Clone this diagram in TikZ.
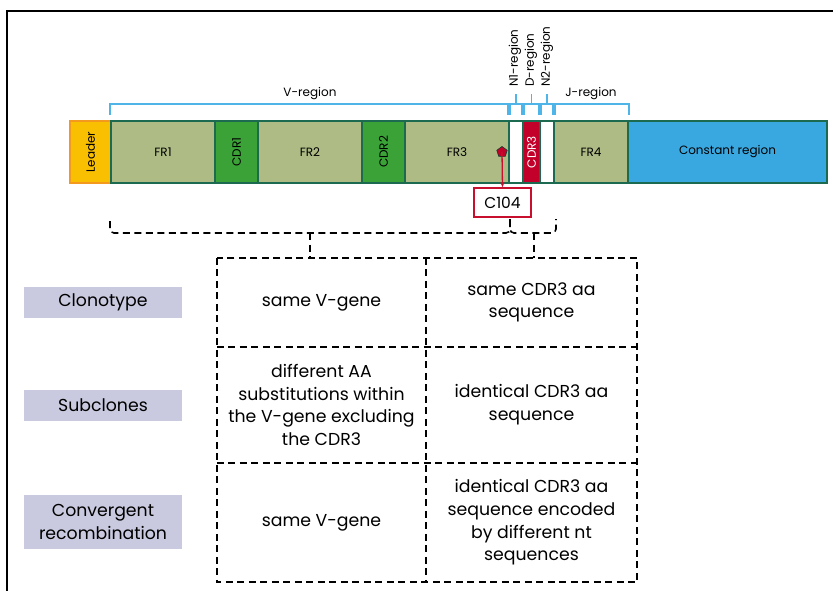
\documentclass[tikz,border=0pt]{standalone}
\usepackage{fontspec}
\setmainfont{Poppins}
\usetikzlibrary{shapes.geometric,arrows.meta}
\definecolor{frc}{HTML}{AEBB85}
\definecolor{cdrc}{HTML}{3BA237}
\definecolor{edgec}{HTML}{1C6B50}
\definecolor{leadc}{HTML}{F8C000}
\definecolor{leadb}{HTML}{F39A1E}
\definecolor{cdr3c}{HTML}{C3002A}
\definecolor{constc}{HTML}{3AA8E0}
\definecolor{brkc}{HTML}{4FB4E8}
\definecolor{labc}{HTML}{C9CADF}
\definecolor{redb}{HTML}{C8102E}
\tikzset{
  seg/.style={draw=edgec, line width=2pt, inner sep=0pt, minimum height=62pt, font=\fontsize{12}{14}\selectfont},
  brk/.style={draw=brkc, line width=1.6pt},
  toplab/.style={font=\fontsize{12}{14}\selectfont, inner sep=0pt},
  rotlab/.style={font=\fontsize{12}{14}\selectfont, inner sep=0pt, rotate=90, anchor=west},
  dsh/.style={draw=black, line width=1.6pt, dash pattern=on 7pt off 4.5pt},
  cell/.style={inner sep=0pt, align=center, font=\fontsize{17.3}{22.7}\selectfont},
  labbox/.style={fill=labc, inner sep=0pt, minimum width=158pt, align=center, font=\fontsize{17.3}{23}\selectfont},
}
\begin{document}
\begin{tikzpicture}[x=1pt,y=-1pt]
\useasboundingbox (0,0) rectangle (833,591);
% frame
\draw[line width=2.5pt] (7,591) -- (7,11) -- (833,11);
% bar segments
\node[seg, draw=leadb, fill=leadc, minimum width=41pt] (lead) at (90.5,152) {\rotatebox{90}{Leader}};
\node[seg, fill=frc, minimum width=104pt] (fr1) at (163,152) {FR1};
\node[seg, fill=cdrc, minimum width=43pt] (cdr1) at (236.5,152) {\rotatebox{90}{CDR1}};
\node[seg, fill=frc, minimum width=104pt] (fr2) at (310,152) {FR2};
\node[seg, fill=cdrc, minimum width=43pt] (cdr2) at (383.5,152) {\rotatebox{90}{CDR2}};
\node[seg, fill=frc, minimum width=104pt] (fr3) at (457,152) {FR3};
\node[seg, fill=white, minimum width=14pt] (n1) at (516,152) {};
\node[seg, fill=cdr3c, minimum width=17pt, text=white] (cdr3) at (531.5,152) {\rotatebox{90}{CDR3}};
\node[seg, fill=white, minimum width=14pt] (n2) at (547,152) {};
\node[seg, fill=frc, minimum width=74pt] (fr4) at (591,152) {FR4};
\node[seg, fill=constc, minimum width=199pt] (const) at (727.5,152) {Constant region};
% brackets
\draw[brk] ([yshift=5pt]fr1.north west) -- ++(0,-11) -| ([yshift=5pt]fr3.north east);
\draw[brk] ([yshift=5pt]n1.north west) -- ++(0,-11) -| ([yshift=5pt]n1.north east);
\draw[brk] ([yshift=5pt]cdr3.north west) -- ++(0,-11) -| ([yshift=5pt]cdr3.north east);
\draw[brk] ([yshift=5pt]n2.north west) -- ++(0,-11) -| ([yshift=5pt]n2.north east);
\draw[brk] ([yshift=5pt]fr4.north west) -- ++(0,-11) -| ([yshift=5pt]fr4.north east);
\draw[brk] ([yshift=16pt]n1.north) -- ++(0,-10) coordinate (n1t);
\draw[brk] ([yshift=16pt]cdr3.north) -- ++(0,-10) coordinate (dt);
\draw[brk] ([yshift=16pt]n2.north) -- ++(0,-10) coordinate (n2t);
\node[toplab] (vlab) at (310,94) {V-region};
\node[toplab] (jlab) at (591,94) {J-region};
\node[rotlab] (n1lab) at (515,87) {N1-region};
\node[rotlab] (dlab) at (531,87) {D-region};
\node[rotlab] (n2lab) at (547,87) {N2-region};
% C104
\node[regular polygon, regular polygon sides=5, fill=cdr3c, draw=edgec!60!black, line width=0.6pt, minimum size=11pt, inner sep=0pt] (pent) at (502,152) {};
\node[draw=redb, line width=1.6pt, fill=white, minimum width=57pt, minimum height=29pt, inner sep=0pt, font=\fontsize{15.5}{17}\selectfont] (c104) at (502.5,202.5) {C104};
\draw[redb, line width=1.3pt, -{Stealth[length=5pt,width=4pt]}] (pent.center) -- (c104.north);
% braces
\coordinate (bl) at (110,221);
\coordinate (bj) at (510,219);
\coordinate (br) at (556,219);
\coordinate (tipl) at (310,233);
\coordinate (tipr) at (534,233);
\draw[dsh, rounded corners=4pt] (bl) |- (510,233) -- (bj);
\draw[dsh, rounded corners=4pt] (bj) |- (556,233) -- (br);
% table
\node[cell, minimum width=209pt, minimum height=89pt] (c11) at (321.5,302.5) {same V-gene};
\node[cell, minimum width=211pt, minimum height=89pt] (c12) at (531.5,302.5) {same CDR3 aa\\sequence};
\node[cell, minimum width=209pt, minimum height=116pt] (c21) at (321.5,405) {different AA\\substitutions within\\the V-gene excluding\\the CDR3};
\node[cell, minimum width=211pt, minimum height=116pt] (c22) at (531.5,405) {identical CDR3 aa\\sequence};
\node[cell, minimum width=209pt, minimum height=119pt] (c31) at (321.5,522.5) {same V-gene};
\node[cell, minimum width=211pt, minimum height=119pt] (c32) at (531.5,522.5) {identical CDR3 aa\\sequence encoded\\by different nt\\sequences};
\draw[dsh] (c11.north west) rectangle (c32.south east);
\draw[dsh] (c11.north east) -- (c31.south east);
\draw[dsh] (c11.south west) -- (c12.south east);
\draw[dsh] (c21.south west) -- (c22.south east);
\draw[dsh] (tipl) -- (tipl |- c11.north);
\draw[dsh] (tipr) -- (tipr |- c12.north);
% labels
\node[labbox, minimum height=31pt] (clon) at (103,302.5) {Clonotype};
\node[labbox, minimum height=31pt] (subc) at (103,405.5) {Subclones};
\node[labbox, minimum height=54pt] (conv) at (103,522) {Convergent\\recombination};
\end{tikzpicture}
\end{document}
